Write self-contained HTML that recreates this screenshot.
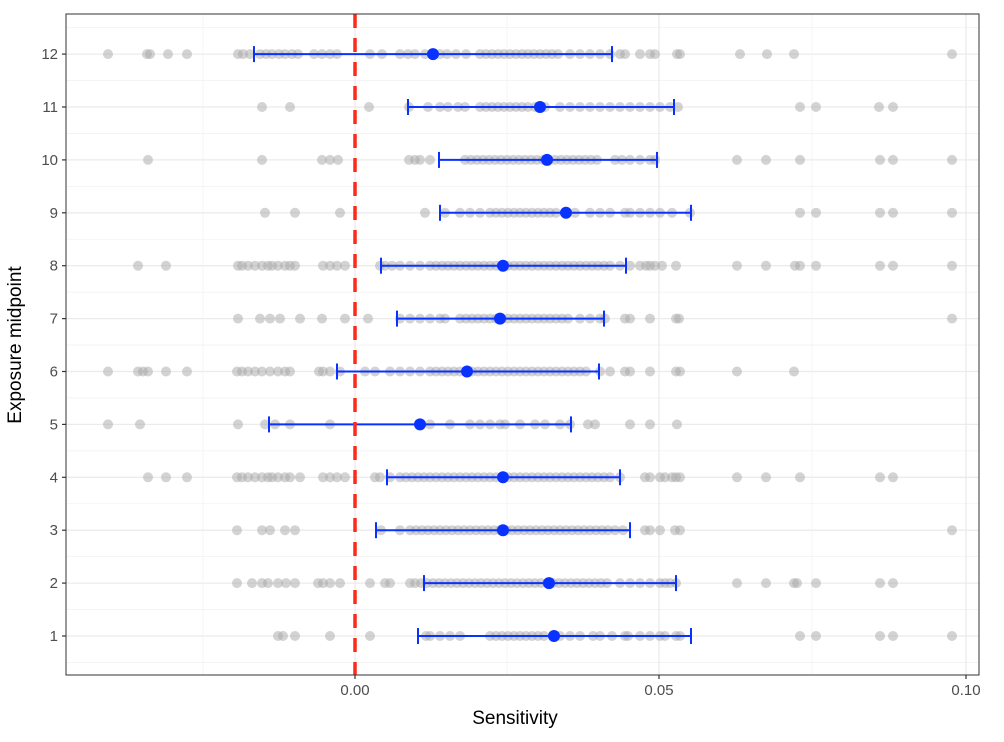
<!DOCTYPE html><html><head><meta charset="utf-8"><style>body{margin:0;background:#fff}svg{display:block}text{font-family:"Liberation Sans",sans-serif}</style></head><body>
<svg id="s" width="1004" height="742" xmlns="http://www.w3.org/2000/svg">
<rect x="0" y="0" width="1004" height="742" fill="#fff"/>
<g id="grid"></g><g id="pts"></g><g id="bars"></g>
<line x1="355" y1="14" x2="355" y2="675" stroke="#ff2a1a" stroke-width="3.5" stroke-dasharray="14,10"/>
<rect x="66" y="14" width="913" height="661" fill="none" stroke="#333" stroke-width="1"/>
<g id="ax" font-size="15" fill="#4d4d4d"></g>
<text x="515" y="724" font-size="19" text-anchor="middle" fill="#000">Sensitivity</text>
<text transform="translate(21,345) rotate(-90)" font-size="19" text-anchor="middle" fill="#000">Exposure midpoint</text>
</svg>
<script>
const NS="http://www.w3.org/2000/svg";
function el(p,t,a){const e=document.createElementNS(NS,t);for(const k in a)e.setAttribute(k,a[k]);p.appendChild(e);return e;}
const g=document.getElementById('grid'),P=document.getElementById('pts'),B=document.getElementById('bars'),A=document.getElementById('ax');
const ry=r=>636-(r-1)*52.9;
for(let r=1;r<=12;r++){el(g,'line',{x1:66,x2:979,y1:ry(r),y2:ry(r),stroke:'#ebebeb','stroke-width':1.3});el(g,'line',{x1:66,x2:979,y1:ry(r)+26.45,y2:ry(r)+26.45,stroke:'#f2f2f2','stroke-width':0.8});}
el(g,'line',{x1:66,x2:979,y1:ry(12)-26.45,y2:ry(12)-26.45,stroke:'#f2f2f2','stroke-width':0.8});
[203,507,812].forEach(x=>el(g,'line',{x1:x,x2:x,y1:14,y2:675,stroke:'#f2f2f2','stroke-width':0.8}));
[355,659,966].forEach(x=>el(g,'line',{x1:x,x2:x,y1:14,y2:675,stroke:'#ebebeb','stroke-width':1.3}));
const D={
12:{p:[108,147,150,168,187,238,243,250,260,266,272,279,285,292,298,314,322,330,337,370,382,400,408,415,425,440,447,456,466,[480,560],570,580,590,600,610,620,625,640,650,655,677,680,740,767,794,952],b:[254,612,433]},
11:{p:[262,290,369,409,428,440,448,458,465,[480,530],535,545,560,570,580,590,600,610,620,630,640,650,660,670,678,800,816,879,893],b:[408,674,540]},
10:{p:[148,262,322,330,338,409,415,420,430,[465,600],615,622,630,640,650,655,737,766,800,880,893,952],b:[439,657,547]},
9:{p:[265,295,340,425,445,460,470,480,[490,560],575,590,600,610,625,630,640,650,660,672,690,800,816,880,893,952],b:[440,691,566]},
8:{p:[138,166,238,242,248,255,262,268,272,278,285,290,295,323,330,337,345,380,385,392,400,410,420,[430,610],620,630,640,646,650,655,662,676,737,766,795,800,816,880,893,952],b:[381,626,503]},
7:{p:[238,260,270,280,300,322,345,368,400,410,420,430,440,445,[460,570],580,590,600,605,625,630,650,676,679,952],b:[397,604,500]},
6:{p:[108,138,143,148,166,187,237,242,248,255,262,270,278,285,290,319,323,330,340,365,375,390,400,410,420,[430,590],600,610,625,630,650,676,680,737,794],b:[337,599,467]},
5:{p:[108,140,238,265,275,290,330,430,450,470,480,490,500,505,520,535,545,560,570,588,595,630,650,677],b:[269,571,420]},
4:{p:[148,166,187,237,242,248,255,262,268,272,278,285,290,300,323,330,337,345,375,380,390,[400,610],620,645,650,660,665,672,676,680,737,766,800,880,893],b:[387,620,503]},
3:{p:[237,262,270,285,295,381,400,[410,610],615,623,645,650,660,675,680,952],b:[376,630,503]},
2:{p:[237,252,262,268,278,286,295,318,323,330,340,370,385,390,410,[415,610],620,630,640,650,660,665,670,676,737,766,794,797,816,880,893],b:[424,676,549]},
1:{p:[278,283,295,330,370,426,430,440,450,460,[490,545],560,570,580,593,600,612,625,628,640,650,660,665,676,680,800,816,880,893,952],b:[418,691,554]}};
for(const r in D){const y=ry(+r);
 D[r].p.forEach(v=>{const xs=Array.isArray(v)?(()=>{let a=[];for(let x=v[0];x<=v[1];x+=6)a.push(x);return a})():[v];
  xs.forEach(x=>el(P,'circle',{cx:x,cy:y,r:5,fill:'#a8a8a8','fill-opacity':0.5}));});
 const [l,h,m]=D[r].b;const c='#0a32ff';
 el(B,'line',{x1:l,x2:h,y1:y,y2:y,stroke:c,'stroke-width':2});
 el(B,'line',{x1:l,x2:l,y1:y-8,y2:y+8,stroke:c,'stroke-width':2});
 el(B,'line',{x1:h,x2:h,y1:y-8,y2:y+8,stroke:c,'stroke-width':2});
 el(B,'circle',{cx:m,cy:y,r:6,fill:c});
 el(A,'line',{x1:62,x2:66,y1:y,y2:y,stroke:'#333','stroke-width':1.2});
 el(A,'text',{x:58,y:y+5,'text-anchor':'end'}).textContent=r;}
[[355,'0.00'],[659,'0.05'],[966,'0.10']].forEach(([x,t])=>{el(A,'line',{x1:x,x2:x,y1:675,y2:679,stroke:'#333','stroke-width':1.2});el(A,'text',{x:x,y:695,'text-anchor':'middle'}).textContent=t;});
</script></body></html>
